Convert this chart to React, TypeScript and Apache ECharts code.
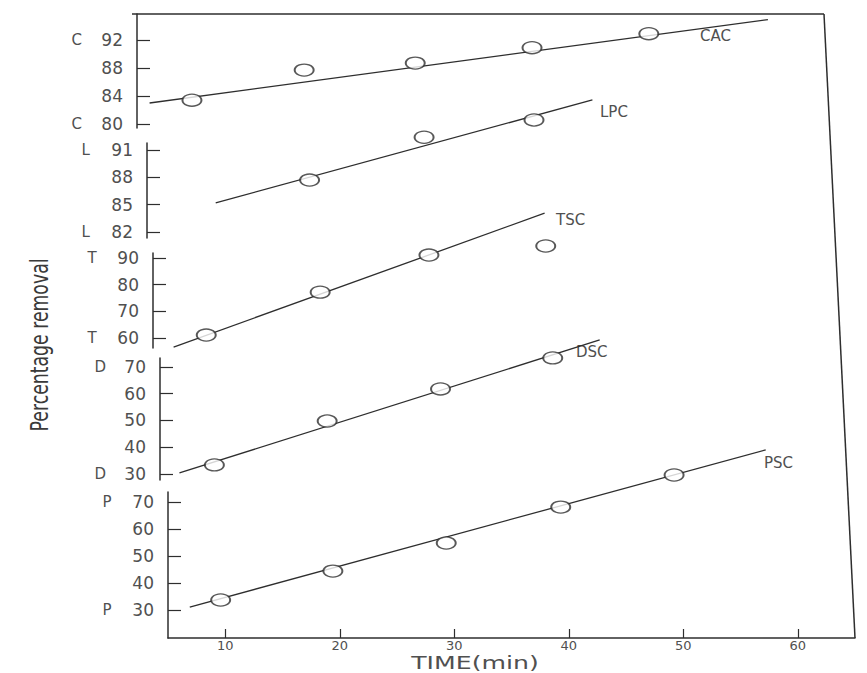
import React, { useEffect, useRef } from "react";
import * as echarts from "echarts";

// ---- data ----
const panelNames = ["CAC", "LPC", "TSC", "DSC", "PSC"];
const panelLetters = ["C", "L", "T", "D", "P"];
const panelTicks = [
  [80, 84, 88, 92],
  [82, 85, 88, 91],
  [60, 70, 80, 90],
  [30, 40, 50, 60, 70],
  [30, 40, 50, 60, 70],
];
const timeTicks = [10, 20, 30, 40, 50, 60];

const cacTime = [9.8, 19.6, 29.3, 39.5, 49.7];
const cacRemoval = [83.4, 87.7, 88.7, 90.9, 92.9];
const lpcTime = [19.2, 29.2, 38.8];
const lpcRemoval = [87.7, 92.4, 94.3];
const tscTime = [9.65, 19.6, 29.1, 39.3];
const tscRemoval = [61.1, 77.2, 91.1, 94.5];
const dscTime = [9.75, 19.6, 29.5, 39.3];
const dscRemoval = [33.4, 49.8, 61.8, 73.4];
const pscTime = [9.6, 19.4, 29.3, 39.3, 49.2];
const pscRemoval = [33.7, 44.4, 54.8, 68.1, 80.0];

// fitted lines: [start, end]
const cacLineTime = [6.1, 60.1];
const cacLineRemoval = [83.0, 94.9];
const lpcLineTime = [11.0, 43.9];
const lpcLineRemoval = [85.2, 96.5];
const tscLineTime = [6.8, 39.2];
const tscLineRemoval = [56.6, 106.8];
const dscLineTime = [6.7, 43.4];
const dscLineRemoval = [30.4, 80.1];
const pscLineTime = [6.9, 57.2];
const pscLineRemoval = [31.1, 89.3];

const pointTimes = [cacTime, lpcTime, tscTime, dscTime, pscTime];
const pointRemovals = [cacRemoval, lpcRemoval, tscRemoval, dscRemoval, pscRemoval];
const lineTimes = [cacLineTime, lpcLineTime, tscLineTime, dscLineTime, pscLineTime];
const lineRemovals = [cacLineRemoval, lpcLineRemoval, tscLineRemoval, dscLineRemoval, pscLineRemoval];

// ---- layout ----
const panelLeft = [137, 147, 153, 160, 168];
const panelTop = [14, 143, 253, 358, 492];
const panelHeight = [114, 95, 95, 122, 146];
const panelMin = [79.43, 81.34, 56.25, 27.76, 19.63];
const panelMax = [95.71, 91.77, 91.875, 73.36, 73.7];
const plotWidth = 687;
const xMin = 5;
const xMax = 65;
const labelPos = [
  [700, 28],
  [600, 104],
  [556, 212],
  [576, 344],
  [764, 455],
];

const INK = "#2e2e2e";
const TXT = "#505050";

export default function App() {
  const ref = useRef<HTMLDivElement>(null);
  useEffect(() => {
    if (!ref.current) return;
    const chart = echarts.init(ref.current, undefined, { renderer: "svg" });
    const grids: any[] = [];
    const xAxes: any[] = [];
    const yAxes: any[] = [];
    const series: any[] = [];
    panelNames.forEach((name, i) => {
      const last = i === panelNames.length - 1;
      grids.push({
        left: panelLeft[i],
        top: panelTop[i],
        width: plotWidth,
        height: panelHeight[i],
      });
      xAxes.push({
        type: "value",
        gridIndex: i,
        min: xMin,
        max: xMax,
        show: last,
        splitLine: { show: false },
        axisLine: { show: last, onZero: false, lineStyle: { color: INK, width: 1.5 } },
        axisTick: {
          show: last,
          inside: true,
          length: 9,
          customValues: timeTicks,
          lineStyle: { color: INK, width: 1.2 },
        },
        axisLabel: {
          show: last,
          customValues: timeTicks,
          color: TXT,
          fontSize: 13,
          lineHeight: 14,
          fontFamily: "DejaVu Sans",
          margin: 0,
        },
      });
      const ticks = panelTicks[i];
      const lo = ticks[0];
      const hi = ticks[ticks.length - 1];
      yAxes.push({
        type: "value",
        gridIndex: i,
        min: panelMin[i],
        max: panelMax[i],
        splitLine: { show: false },
        axisLine: { show: true, onZero: false, lineStyle: { color: INK, width: 1.5 } },
        axisTick: {
          show: true,
          inside: true,
          length: 13,
          customValues: ticks,
          lineStyle: { color: INK, width: 1.2 },
        },
        axisLabel: {
          customValues: ticks,
          margin: 14,
          formatter: (v: number) =>
            v === lo || v === hi
              ? `{l|${panelLetters[i]}}{n|${v}}`
              : `{n|${v}}`,
          rich: {
            l: { width: 30, align: "left", color: TXT, fontSize: 15, fontFamily: "DejaVu Sans" },
            n: { color: TXT, fontSize: 17, fontFamily: "DejaVu Sans" },
          },
        },
      });
      series.push({
        type: "line",
        name: name + " fit",
        xAxisIndex: i,
        yAxisIndex: i,
        data: lineTimes[i].map((t, k) => [t, lineRemovals[i][k]]),
        showSymbol: false,
        symbol: "none",
        clip: false,
        lineStyle: { color: INK, width: 1.3 },
        z: 2,
      });
      series.push({
        type: "scatter",
        name,
        xAxisIndex: i,
        yAxisIndex: i,
        data: pointTimes[i].map((t, k) => [t, pointRemovals[i][k]]),
        symbol: "circle",
        symbolSize: [19, 12],
        clip: false,
        itemStyle: { color: "#fff", borderColor: INK, borderWidth: 1.6 },
        z: 3,
      });
    });

    const graphic: any[] = [
      {
        type: "line",
        shape: { x1: 132, y1: 14, x2: 824, y2: 14 },
        style: { stroke: INK, lineWidth: 1.5 },
      },
      {
        type: "line",
        shape: { x1: 824, y1: 14, x2: 855, y2: 638 },
        style: { stroke: INK, lineWidth: 1.5 },
      },
      {
        type: "text",
        x: 475,
        y: 663,
        scaleX: 1.4,
        style: {
          text: "TIME(min)",
          fill: TXT,
          fontSize: 18,
          fontFamily: "DejaVu Sans",
          textAlign: "center",
          textVerticalAlign: "middle",
        },
      },
      {
        type: "text",
        x: 40,
        y: 345,
        rotation: Math.PI / 2,
        scaleX: 0.72,
        style: {
          text: "Percentage removal",
          fill: "#3a3a3a",
          fontSize: 24,
          fontFamily: "DejaVu Sans",
          textAlign: "center",
          textVerticalAlign: "middle",
        },
      },
      ...panelNames.map((n, i) => ({
        type: "text",
        x: labelPos[i][0],
        y: labelPos[i][1],
        style: {
          text: n,
          fill: TXT,
          fontSize: 15,
          fontFamily: "DejaVu Sans",
        },
      })),
    ];

    chart.setOption({
      animation: false,
      backgroundColor: "#ffffff",
      grid: grids,
      xAxis: xAxes,
      yAxis: yAxes,
      series,
      graphic,
    });
    return () => chart.dispose();
  }, []);
  return (
    <div
      ref={ref}
      style={{ position: "fixed", left: 0, top: 0, width: 867, height: 673 }}
    />
  );
}
